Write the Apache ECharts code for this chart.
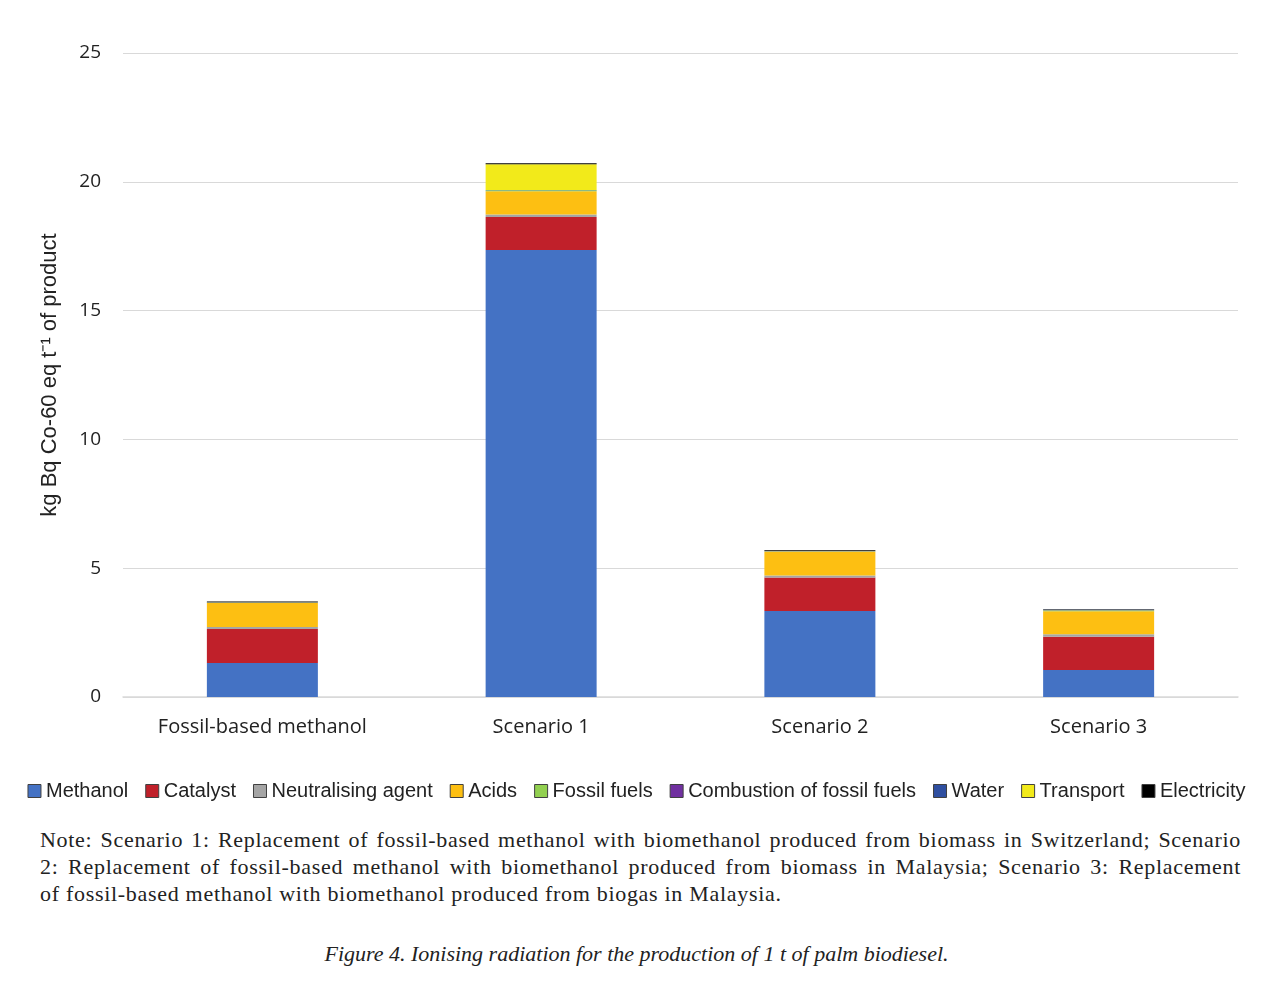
<!DOCTYPE html>
<html>
<head>
<meta charset="utf-8">
<script src="https://cdn.jsdelivr.net/npm/echarts@6/dist/echarts.min.js"></script>
<style>
body{margin:0;background:#fff;}
#chart{position:absolute;left:0;top:0;width:1273px;height:820px;}
.note{position:absolute;left:40px;width:1201px;font-family:"Liberation Serif",serif;font-size:22px;letter-spacing:0.7px;color:#222;}
.line{text-align:justify;text-align-last:justify;height:27px;white-space:nowrap;}
.last{text-align-last:left;}
#caption{position:absolute;left:0;width:1273px;top:941px;text-align:center;font-family:"Liberation Serif",serif;font-style:italic;font-size:22px;color:#222;}
</style>
</head>
<body>
<div id="chart"></div>
<div class="note" style="top:827px">
<div class="line">Note: Scenario 1: Replacement of fossil-based methanol with biomethanol produced from biomass in Switzerland; Scenario</div>
<div class="line">2: Replacement of fossil-based methanol with biomethanol produced from biomass in Malaysia; Scenario 3: Replacement</div>
<div class="line last">of fossil-based methanol with biomethanol produced from biogas in Malaysia.</div>
</div>
<div id="caption">Figure 4. Ionising radiation for the production of 1 t of palm biodiesel.</div>
<script>
var categories=['Fossil-based methanol','Scenario 1','Scenario 2','Scenario 3'];
var yTicks=[0,5,10,15,20,25];
var methanol=[1.32,17.35,3.34,1.05];
var catalyst=[1.32,1.28,1.3,1.29];
var neutralising=[0.08,0.1,0.08,0.1];
var acids=[0.94,0.9,0.93,0.89];
var fossilFuels=[0.01,0.04,0.01,0.04];
var combustion=[0,0,0,0.005];
var water=[0.01,0.01,0.01,0.01];
var transport=[0,1.0,0,0];
var electricity=[0.03,0.04,0.03,0.02];

var names=['Methanol','Catalyst','Neutralising agent','Acids','Fossil fuels','Combustion of fossil fuels','Water','Transport','Electricity'];
var colors=['#4472C4','#C0202A','#A5A5A5','#FDBF12','#92D050','#7030A0','#2F4FA0','#F2EA1A','#000000'];
var values=[methanol,catalyst,neutralising,acids,fossilFuels,combustion,water,transport,electricity];

var series=[];
for(var i=0;i<names.length;i++){
	series.push({
		name:names[i],
		type:'bar',
		stack:'total',
		barWidth:111,
		itemStyle:{color:colors[i]},
		data:values[i]
	});
}

var chart=echarts.init(document.getElementById('chart'));
chart.setOption({
	animation:false,
	color:colors,
	grid:{left:123,right:35,top:53,bottom:123},
	legend:{
		bottom:14,
		left:'center',
		icon:'rect',
		itemWidth:13,
		itemHeight:13,
		itemGap:17,
		itemStyle:{borderColor:'#404040',borderWidth:1},
		textStyle:{fontFamily:'Liberation Sans',fontSize:20,color:'#222',padding:[0,0,0,0]},
		data:names
	},
	xAxis:{
		type:'category',
		data:categories,
		axisLine:{lineStyle:{color:'#d9d9d9',width:1.5}},
		axisTick:{show:false},
		axisLabel:{fontFamily:'Open Sans',fontSize:20,color:'#222',margin:20}
	},
	yAxis:{
		type:'value',
		min:0,
		max:25,
		interval:5,
		name:'kg Bq Co-60 eq t⁻¹ of product',
		nameLocation:'middle',
		nameGap:62,
		nameTextStyle:{fontFamily:'Liberation Sans',fontSize:22,color:'#222'},
		axisLine:{show:false},
		axisTick:{show:false},
		axisLabel:{fontFamily:'Open Sans',fontSize:19,color:'#222',margin:22},
		splitLine:{lineStyle:{color:'#d9d9d9',width:1.2}}
	},
	series:series
});
</script>
</body>
</html>
